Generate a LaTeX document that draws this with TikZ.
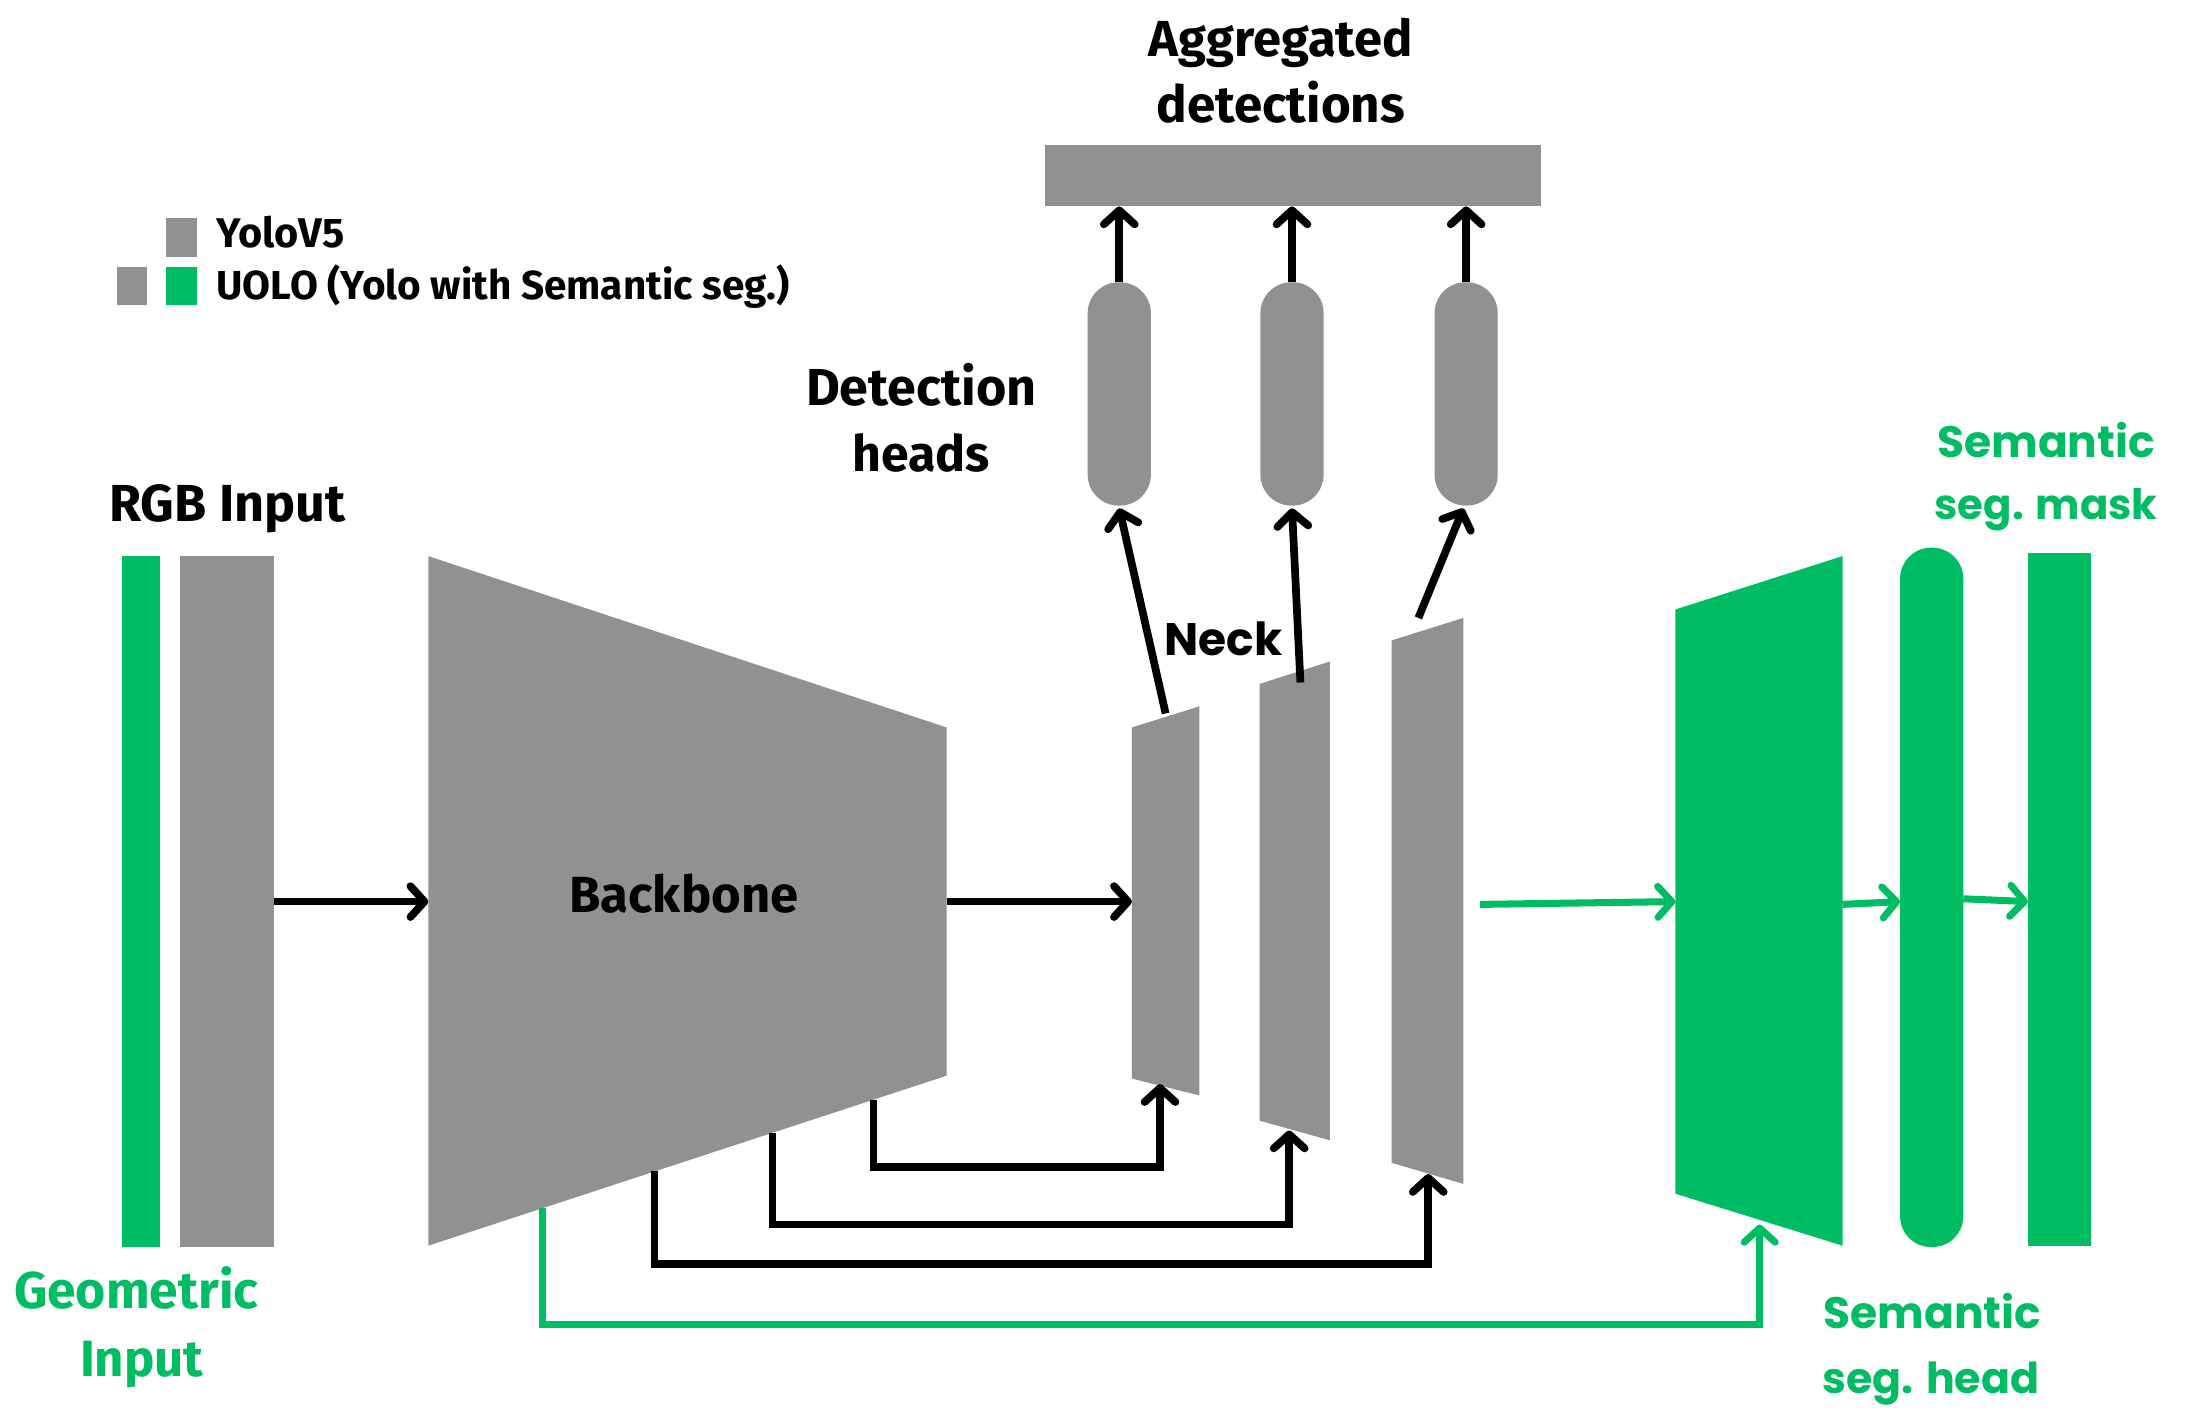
\documentclass[tikz,border=0pt]{standalone}
\usepackage{fontspec}
\setmainfont{Fira Sans}
\newfontfamily\widef{Poppins}
\usetikzlibrary{arrows.meta}
\definecolor{gr}{HTML}{919191}
\definecolor{gn}{HTML}{00BD63}
\newcommand{\fitw}[2]{\resizebox{#1pt}{!}{#2}}
\tikzset{
  blk/.style={fill=gr},
  grn/.style={fill=gn},
  boxn/.style={rectangle,inner sep=0pt,outer sep=0pt},
  lbl/.style={inner sep=0pt,anchor=base,font=\bfseries},
  barb/.style={-{Straight Barb[length=10pt,width=22pt,round]}},
  karrow/.style={draw=black,line width=5.5pt,barb},
  garrow/.style={draw=gn,line width=5pt,barb},
  kskip/.style={draw=black,line width=5.5pt,line join=miter},
  gskip/.style={draw=gn,line width=5pt,line join=miter},
}
\begin{document}
\begin{tikzpicture}[x=1pt,y=-1pt]
\useasboundingbox (0,0) rectangle (1568,1011);

% legend
\node[boxn,blk,minimum width=22pt,minimum height=28pt] (lg1) at (129,169) {};
\node[boxn,blk,minimum width=22pt,minimum height=27pt] (lg2) at (94,203.5) {};
\node[boxn,grn,minimum width=22pt,minimum height=27pt] (lg3) at (129,203.5) {};
\node[lbl,anchor=base west] (tyolo) at (154,176) {\fitw{91}{\bfseries YoloV5}};
\node[lbl,anchor=base west] (tuolo) at (154,213) {\fitw{408}{\bfseries UOLO (Yolo with Semantic seg.)}};

% aggregated detections
\node[lbl] (tagg1) at (912,40) {\fitw{188}{\bfseries Aggregated}};
\node[lbl] (tagg2) at (912,87) {\fitw{177}{\bfseries detections}};
\node[boxn,blk,minimum width=353pt,minimum height=44pt] (agg) at (920.5,125) {};

% detection heads
\node[lbl] (tdet1) at (656,289) {\fitw{164}{\bfseries Detection}};
\node[lbl] (tdet2) at (656,336) {\fitw{98}{\bfseries heads}};
\node[boxn,blk,minimum width=45pt,minimum height=159pt,rounded corners=22pt] (cap1) at (797,280.5) {};
\node[boxn,blk,minimum width=45pt,minimum height=159pt,rounded corners=22pt] (cap2) at (920,280.5) {};
\node[boxn,blk,minimum width=45pt,minimum height=159pt,rounded corners=22pt] (cap3) at (1044,280.5) {};

% inputs
\node[lbl] (trgb) at (162,371) {\fitw{168}{\bfseries RGB Input}};
\node[boxn,grn,minimum width=27pt,minimum height=492pt] (geo) at (100.5,642) {};
\node[boxn,blk,minimum width=67pt,minimum height=492pt] (rgb) at (161.5,642) {};
\node[lbl,text=gn] (tgeo1) at (97,932) {\fitw{174}{\bfseries Geometric}};
\node[lbl,text=gn] (tgeo2) at (101,980) {\fitw{88}{\bfseries Input}};

% backbone
\coordinate (bb1) at (305,396);
\coordinate (bb2) at (674,518);
\coordinate (bb3) at (674,766);
\coordinate (bb4) at (305,887);
\fill[gr] (bb1) -- (bb2) -- (bb3) -- (bb4) -- cycle;
\node[lbl] (tbb) at (487,650) {\fitw{163}{\bfseries Backbone}};

% neck
\coordinate (n1a) at (806,518); \coordinate (n1b) at (854,503);
\coordinate (n1c) at (854,780); \coordinate (n1d) at (806,768);
\coordinate (n2a) at (897,487); \coordinate (n2b) at (947,471);
\coordinate (n2c) at (947,812); \coordinate (n2d) at (897,798);
\coordinate (n3a) at (991,456); \coordinate (n3b) at (1042,440);
\coordinate (n3c) at (1042,843); \coordinate (n3d) at (991,828);
\fill[gr] (n1a) -- (n1b) -- (n1c) -- (n1d) -- cycle;
\fill[gr] (n2a) -- (n2b) -- (n2c) -- (n2d) -- cycle;
\fill[gr] (n3a) -- (n3b) -- (n3c) -- (n3d) -- cycle;
\node[lbl] (tneck) at (871,467) {\fitw{84}{\widef\bfseries Neck}};

% semantic head
\coordinate (s1) at (1193,434); \coordinate (s2) at (1312,396);
\coordinate (s3) at (1312,887); \coordinate (s4) at (1193,850);
\fill[gn] (s1) -- (s2) -- (s3) -- (s4) -- cycle;
\node[boxn,grn,minimum width=45pt,minimum height=498pt,rounded corners=22pt] (scap) at (1375.5,639) {};
\node[boxn,grn,minimum width=45pt,minimum height=493pt] (mask) at (1466.5,640.5) {};
\node[lbl,text=gn] (tsm1) at (1457,326) {\fitw{155}{\widef\bfseries Semantic}};
\node[lbl,text=gn] (tsm2) at (1457,370) {\fitw{159}{\widef\bfseries seg. mask}};
\node[lbl,text=gn] (tsh1) at (1376,946) {\fitw{155}{\widef\bfseries Semantic}};
\node[lbl,text=gn] (tsh2) at (1375,992) {\fitw{154}{\widef\bfseries seg. head}};

% connector endpoints
\coordinate (a1s) at (195,642);  \coordinate (a1e) at (305,642);
\coordinate (a2s) at (674,642);  \coordinate (a2e) at (806,642);
\coordinate (h1s) at (830,508);  \coordinate (h1e) at (797,362);
\coordinate (h2s) at (926,486);  \coordinate (h2e) at (920,362);
\coordinate (h3s) at (1010,440); \coordinate (h3e) at (1042,362);
\coordinate (g1s) at (1054,644); \coordinate (g1e) at (1193,642);
\coordinate (g2s) at (1312,644); \coordinate (g2e) at (1353,642);
\coordinate (g3s) at (1398,640); \coordinate (g3e) at (1444,642);
\coordinate (k1s) at (622,783);  \coordinate (k1e) at (826,772);
\coordinate (k2s) at (550,807);  \coordinate (k2e) at (918,805);
\coordinate (k3s) at (466,834);  \coordinate (k3e) at (1017,836);
\coordinate (gks) at (386,860);  \coordinate (gke) at (1253,872);

\draw[karrow] (a1s) -- (a1e);
\draw[karrow] (a2s) -- (a2e);
\draw[karrow] (h1s) -- (h1e);
\draw[karrow] (h2s) -- (h2e);
\draw[karrow] (h3s) -- (h3e);
\draw[karrow] (cap1.north) -- (agg.south -| cap1.north);
\draw[karrow] (cap2.north) -- (agg.south -| cap2.north);
\draw[karrow] (cap3.north) -- (agg.south -| cap3.north);
\draw[garrow] (g1s) -- (g1e);
\draw[garrow] (g2s) -- (g2e);
\draw[garrow] (g3s) -- (g3e);

\draw[kskip,barb] (k1s) -- (622,831) -- (826,831) -- (k1e);
\draw[kskip,barb] (k2s) -- (550,872) -- (918,872) -- (k2e);
\draw[kskip,barb] (k3s) -- (466,900) -- (1017,900) -- (k3e);
\draw[gskip,barb] (gks) -- (386,943) -- (1253,943) -- (gke);
\end{tikzpicture}
\end{document}
